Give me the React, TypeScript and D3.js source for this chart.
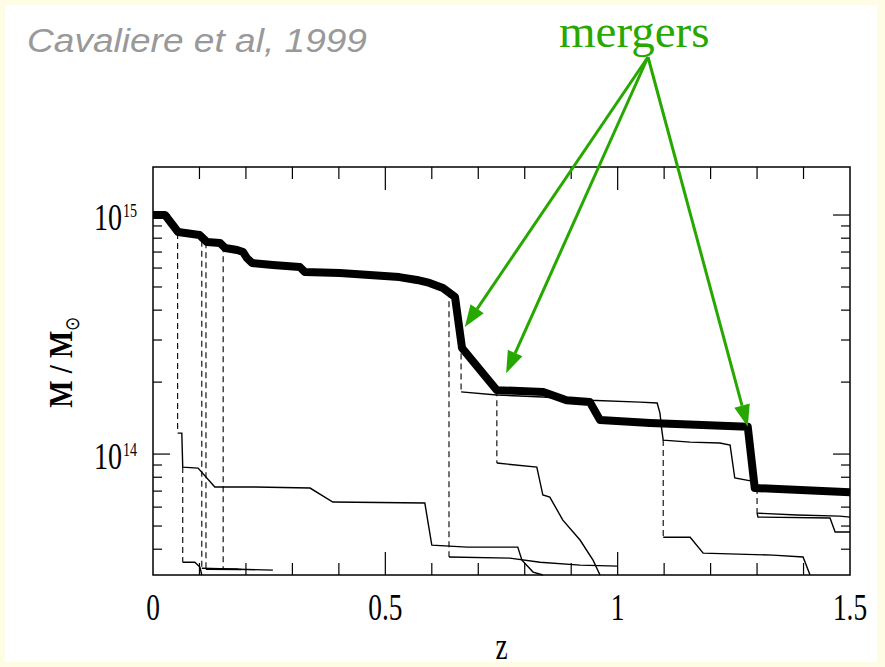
import React from 'react';
import * as d3 from 'd3';

const W = 885;
const H = 667;

// values are [z, M / 10^14 Msun]
const mainBranch: [number, number][] = [
  [0, 10], [0.026, 10], [0.054, 8.49], [0.1, 8.25], [0.116, 7.71], [0.144, 7.64],
  [0.155, 7.28], [0.181, 7.14], [0.194, 7.0], [0.202, 6.61], [0.213, 6.3], [0.258, 6.18],
  [0.316, 6.06], [0.327, 5.77], [0.402, 5.72], [0.53, 5.5], [0.568, 5.35], [0.595, 5.2],
  [0.624, 4.95], [0.65, 4.54], [0.665, 2.78], [0.74, 1.85], [0.84, 1.82], [0.89, 1.68],
  [0.94, 1.65], [0.962, 1.39], [1.07, 1.35], [1.28, 1.3], [1.295, 0.721], [1.5, 0.693],
];

const branchA: [number, number][] = [
  [0.053, 1.224], [0.062, 1.224], [0.064, 0.882], [0.097, 0.874], [0.133, 0.728], [0.22, 0.728],
  [0.338, 0.721], [0.387, 0.63], [0.585, 0.624], [0.6, 0.416], [0.676, 0.408], [0.785, 0.408],
  [0.794, 0.36], [0.818, 0.321], [0.839, 0.312],
];
const branchB: [number, number][] = [[0.064, 0.353], [0.09, 0.353], [0.101, 0.337], [0.105, 0.312]];
const branchC: [number, number][] = [[0.105, 0.333], [0.258, 0.327]];
const branchD: [number, number][] = [[0.114, 0.33], [0.19, 0.329]];
const branchE: [number, number][] = [[0.151, 0.33], [0.183, 0.33]];
const branchF: [number, number][] = [
  [0.637, 0.371], [0.768, 0.367], [0.833, 0.353], [0.919, 0.343], [1.0, 0.34],
];
const branchG: [number, number][] = [
  [0.74, 0.917], [0.826, 0.882], [0.839, 0.674], [0.854, 0.661], [0.882, 0.529],
  [0.919, 0.437], [0.947, 0.36], [0.962, 0.312],
];
const branchH: [number, number][] = [
  [0.663, 1.82], [0.74, 1.766], [0.839, 1.732], [0.94, 1.68], [1.048, 1.65], [1.085, 1.635],
  [1.091, 1.484], [1.095, 1.26], [1.098, 1.144], [1.156, 1.122], [1.22, 1.112], [1.242, 1.091],
  [1.252, 0.794], [1.289, 0.771],
];
const branchI: [number, number][] = [
  [1.098, 0.449], [1.156, 0.449], [1.184, 0.385], [1.334, 0.378], [1.399, 0.371], [1.414, 0.312],
];
const branchJ: [number, number][] = [[1.3, 0.566], [1.386, 0.556], [1.478, 0.55], [1.5, 0.545]];
const branchK: [number, number][] = [
  [1.3, 0.566], [1.302, 0.545], [1.457, 0.54], [1.468, 0.472], [1.5, 0.472],
];

const branches = [branchA, branchB, branchC, branchD, branchE, branchF, branchG, branchH, branchI, branchJ, branchK];

// dashed merger links: [z, M upper, M lower]
const mergerLinks: [number, number, number][] = [
  [0.053, 8.4, 1.224], [0.064, 0.882, 0.353], [0.105, 7.8, 0.333], [0.114, 7.7, 0.33],
  [0.151, 7.4, 0.33], [0.637, 4.8, 0.371], [0.663, 2.9, 1.82], [0.74, 1.85, 0.917],
  [1.098, 1.144, 0.449], [1.3, 0.721, 0.566],
];

// points the green arrows indicate
const arrowTargets: [number, number][] = [[0.671, 3.4], [0.76, 2.18], [1.28, 1.3]];

const xTickLabels = ['0', '0.5', '1', '1.5'];
const yTickLabels = [{ v: 10, exp: '15' }, { v: 1, exp: '14' }];

const serif = "'Liberation Serif', 'Times New Roman', serif";
const green = '#26a800';

const Cond = ({ x, y, size, anchor = 'middle', sx = 0.74, children }: any) => (
  <text transform={`translate(${x},${y}) scale(${sx},1)`} fontSize={size} textAnchor={anchor}
    fontFamily={serif} fill="#000">{children}</text>
);

export default function App() {
  const x = d3.scaleLinear().domain([0, 1.5]).range([153, 850]);
  const y = d3.scaleLog().domain([0.312, 15.88]).range([575, 167]);
  const line = d3.line<[number, number]>().x(d => x(d[0])).y(d => y(d[1]));
  const [x0, x1] = x.range();
  const [y0, y1] = y.range();

  const xTicks = d3.range(1, 15).map(i => i / 10);
  const yTicks = y.ticks();

  const apex = { x: 648, y: 57 };

  return (
    <div style={{ position: 'absolute', left: 0, top: 0 }}>
      <svg width={W} height={H} style={{ display: 'block' }}>
        <rect width={W} height={H} fill="#fffce6" />
        <rect x={5} y={5} width={872} height={657} fill="#fff" />

        <text x={27} y={52} fontFamily="'Liberation Sans', Arial, sans-serif" fontStyle="italic"
          fontSize={33} fill="#999" textLength={340} lengthAdjust="spacingAndGlyphs">Cavaliere et al, 1999</text>
        <text x={559} y={47} fontFamily={serif} fontSize={47} fill={green}>mergers</text>

        {/* frame */}
        <rect x={x0} y={y1} width={x1 - x0} height={y0 - y1} fill="none" stroke="#000" strokeWidth={1.5} />

        {xTicks.map(v => {
          const major = Math.abs(v * 2 - Math.round(v * 2)) < 1e-6;
          const len = major ? 23 : 12;
          return (
            <g key={'x' + v} stroke="#000" strokeWidth={1.2}>
              <line x1={x(v)} x2={x(v)} y1={y0} y2={y0 - len} />
              <line x1={x(v)} x2={x(v)} y1={y1} y2={y1 + len} />
            </g>
          );
        })}
        {yTicks.map(v => {
          const major = Math.abs(Math.log10(v) - Math.round(Math.log10(v))) < 1e-6;
          const len = major ? 17 : 9;
          return (
            <g key={'y' + v} stroke="#000" strokeWidth={1.2}>
              <line x1={x0} x2={x0 + len} y1={y(v)} y2={y(v)} />
              <line x1={x1} x2={x1 - len} y1={y(v)} y2={y(v)} />
            </g>
          );
        })}

        {xTickLabels.map(t => (
          <Cond key={t} x={x(+t)} y={620} size={37}>{t}</Cond>
        ))}
        {yTickLabels.map(t => (
          <g key={t.exp}>
            <Cond x={122} y={y(t.v) + 15} size={38} anchor="end">10</Cond>
            <Cond x={123} y={y(t.v) + 2} size={19} anchor="start">{t.exp}</Cond>
          </g>
        ))}
        <Cond x={(x0 + x1) / 2} y={659} size={37}>z</Cond>
        <text transform="translate(72,362) rotate(-90) scale(0.85,1)" textAnchor="middle"
          fontFamily={serif} fontWeight="bold" fontSize={34}>
          M / M<tspan dy={7} fontSize={20} fontWeight="normal">⊙</tspan>
        </text>

        {/* merger links */}
        {mergerLinks.map(([z, a, b], i) => (
          <line key={'m' + i} x1={x(z)} x2={x(z)} y1={y(a)} y2={y(b)} stroke="#000"
            strokeWidth={1.1} strokeDasharray="6,4" />
        ))}
        {branches.map((b, i) => (
          <path key={'b' + i} d={line(b) ?? ''} fill="none" stroke="#000" strokeWidth={1.4} />
        ))}
        <path d={line(mainBranch) ?? ''} fill="none" stroke="#000" strokeWidth={8} strokeLinejoin="round" />

        {/* arrows */}
        {arrowTargets.map(([z, m], i) => {
          const tx = x(z), ty = y(m);
          const dx = tx - apex.x, dy = ty - apex.y;
          const L = Math.hypot(dx, dy);
          const ux = dx / L, uy = dy / L;
          const hl = 22, hw = 8;
          const bx = tx - ux * hl, by = ty - uy * hl;
          const pts = [[tx, ty], [bx - uy * hw, by + ux * hw], [bx + uy * hw, by - ux * hw]]
            .map(p => p.join(',')).join(' ');
          return (
            <g key={'a' + i}>
              <line x1={apex.x} y1={apex.y} x2={bx} y2={by} stroke={green} strokeWidth={3} />
              <polygon points={pts} fill={green} />
            </g>
          );
        })}
      </svg>
    </div>
  );
}
